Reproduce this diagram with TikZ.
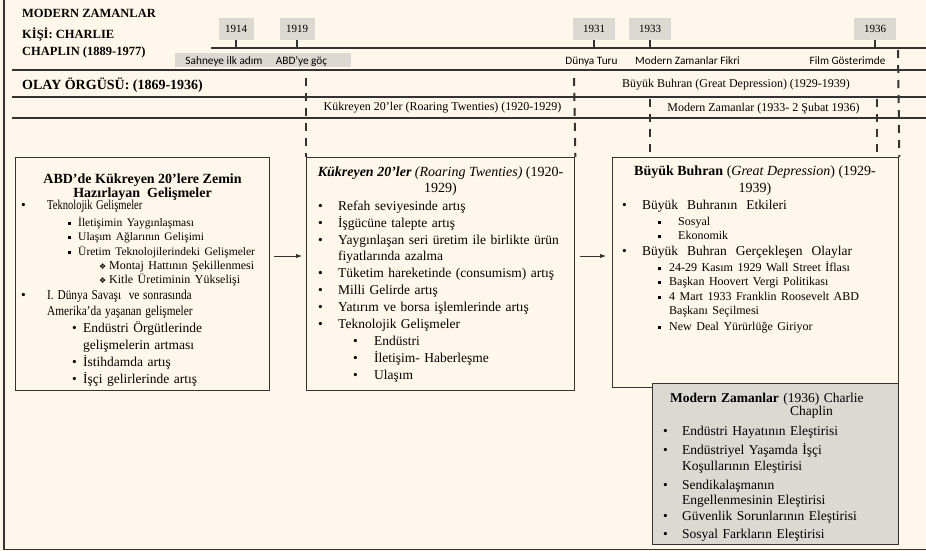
\documentclass[tikz,border=0pt]{standalone}
\usepackage{fontspec}
\setmainfont{Liberation Serif}
\newfontfamily\sansfont{Carlito}
\newfontfamily\symfont{DejaVu Sans}
\usepackage{graphicx}
\usepackage{tikz}
\usepackage{xcolor}
\usetikzlibrary{arrows.meta}
\usetikzlibrary{calc}

\definecolor{paper}{HTML}{FFF8EA}
\definecolor{greybox}{HTML}{DCD9D3}
\definecolor{ink}{HTML}{333333}

\newcommand{\fs}[2]{\fontsize{#1}{#2}\selectfont}
\newcommand{\itm}[4]{\hspace*{#1pt}\makebox[#2pt][l]{#3}{#4}}
\newcommand{\bul}{\textbullet}
\newcommand{\sqb}{\rule[1.5pt]{3.2pt}{3.2pt}}
\newcommand{\dia}{{\symfont\fs{8}{8}❖}}
\newcommand{\st}{\rule{0pt}{12pt}}
% condensed lines of the first box
\newcommand{\cnd}[2]{\scalebox{#1}[1]{\fs{13.5}{14.5}#2}}

\tikzset{
  boxframe/.style={draw=ink, line width=1.3pt, inner sep=0pt, anchor=north west},
  boxtext/.style={inner sep=0pt, anchor=north west, align=left, text width=#1,
    execute at begin node={\setlength{\parindent}{0pt}}},
  hline/.style={draw=ink, line width=1.4pt},
  dsh/.style={draw=ink, line width=2pt, dash pattern=on 8pt off 7pt},
  yearbox/.style={fill=greybox, minimum height=22pt, inner sep=0pt, font=\fs{11}{13}},
  yeartick/.style={draw=ink, line width=1.8pt},
  lbl/.style={font=\sansfont\fs{11.3}{13}, anchor=base, inner sep=0pt},
  rowtxt/.style={font=\fs{12}{14}, anchor=base, inner sep=0pt},
  arr/.style={draw=ink, line width=0.9pt, -{Latex[length=6pt,width=4.5pt]}}
}

\begin{document}
\begin{tikzpicture}[x=1pt,y=-1pt]

    \useasboundingbox (0,0) rectangle (926,551);
    \fill[paper] (0,0) rectangle (926,551);

    % outer frame (left and bottom)
    \draw[ink, line width=1.5pt] (4,0) -- (4,549.5) -- (926,549.5);

    % title block
    \node[anchor=base west, inner sep=0pt, font=\bfseries\fs{12.5}{17}] (ttl) at (22,17.5) {MODERN ZAMANLAR};
    \node[anchor=north west, inner sep=0pt, align=left, font=\bfseries\fs{12.5}{17.5}] (kisi) at (22,26) {\st KİŞİ: CHARLIE\\CHAPLIN (1889-1977)};

    % time line of the person
    \draw[hline] (211,48) -- (926,48);

    \node[yearbox, minimum width=35pt] (y1914) at (236,29) {1914};
    \node[yearbox, minimum width=35pt] (y1919) at (297,29) {1919};
    \node[yearbox, minimum width=42pt] (y1931) at (594,29) {1931};
    \node[yearbox, minimum width=42pt] (y1933) at (650,29) {1933};
    \node[yearbox, minimum width=42pt] (y1936) at (875,29) {1936};

    \foreach \y in {y1914,y1919,y1931,y1933,y1936}
        \draw[yeartick] (\y.south) -- ++(0,8);

    % labels under the time line
    \node[fill=greybox, anchor=north west, minimum width=176pt, minimum height=14pt, inner sep=0pt] (sbox) at (175,53) {};
    \node[lbl] (s1914) at (224,64) {Sahneye ilk adım};
    \node[lbl] (s1919) at (301.5,64) {ABD’ye göç};
    \node[lbl] (s1931) at (591.5,64) {Dünya Turu};
    \node[lbl] (s1933) at (687.5,64) {Modern Zamanlar Fikri};
    \node[lbl] (s1936) at (847.5,64) {Film Gösterimde};

    % rows of the plot
    \draw[hline] (12,70) -- (926,70);
    \draw[hline] (12,97) -- (926,97);
    \draw[hline] (12,118) -- (926,118);

    \node[anchor=base west, inner sep=0pt, font=\bfseries\fs{14}{16}] (olay) at (22,89) {OLAY ÖRGÜSÜ: (1869-1936)};
    \node[rowtxt] (gd) at (736,87.5) {Büyük Buhran (Great Depression) (1929-1939)};
    \node[rowtxt] (rt) at (442.5,110) {Kükreyen 20’ler (Roaring Twenties) (1920-1929)};
    \node[rowtxt] (mz) at (763.5,111) {Modern Zamanlar (1933-\ 2 Şubat 1936)};

    % the boxes
    \node[boxframe, minimum width=254pt, minimum height=233pt] (b1) at (15,157) {};
    \node[boxframe, minimum width=268pt, minimum height=233pt] (b2) at (306,157) {};
    \node[boxframe, minimum width=286pt, minimum height=230pt] (b3) at (612,157) {};

    % dashed period marks
    \draw[dsh] (306,78) -- (b2.north west);
    \draw[dsh] (574,78) -- (b2.north east);
    \draw[dsh] (650,99) -- (650,157);
    \draw[dsh] (877,99) -- (877,157);
    \draw[dsh] (898,50) -- (b3.north east);

    % box 1
    \node[align=center, inner sep=0pt, anchor=north, font=\bfseries\fs{14}{14}] (h1) at (142.5,171) {\st ABD’de Kükreyen 20’lere Zemin\\Hazırlayan\ \ Gelişmeler};
    \node[boxtext=250pt, font=\fs{13.5}{14.5}] (t1) at (15,197.5) {%
\itm{6}{26}{\bul}{\cnd{0.78}{Teknolojik Gelişmeler}}\st\\[2pt]
\itm{53}{10}{\sqb}{\fs{11.5}{14.5}İletişimin Yaygınlaşması}\\
\itm{53}{10}{\sqb}{\fs{11.5}{14.5}Ulaşım Ağlarının Gelişimi}\\
\itm{53}{10}{\sqb}{\fs{11.5}{14.5}Üretim Teknolojilerindeki Gelişmeler}\\
\itm{84}{10}{\dia}{\fs{12}{14.5}Montaj Hattının Şekillenmesi}\\[-1pt]
\itm{84}{10}{\dia}{\fs{12}{14.5}Kitle Üretiminin Yükselişi}\\[1.5pt]
\itm{6}{26}{\bul}{\cnd{0.84}{I. Dünya Savaşı\ \ ve sonrasında}}\\[1.5pt]
\itm{6}{26}{}{\cnd{0.84}{Amerika’da\ yaşanan\ gelişmeler}}\\[2.5pt]
\itm{57}{11}{\bul}{Endüstri Örgütlerinde}\\[2.5pt]
\itm{57}{11}{}{gelişmelerin artması}\\[2.5pt]
\itm{57}{11}{\bul}{İstihdamda artış}\\[2.5pt]
\itm{57}{11}{\bul}{İşçi gelirlerinde\ artış}};

    % box 2
    \node[align=center, inner sep=0pt, anchor=north, font=\fs{14}{15.6}] (h2) at (440.5,164.7) {\st{\bfseries\itshape Kükreyen 20’ler} \textit{(Roaring Twenties)} (1920-\\1929)};
    \node[boxtext=262pt, font=\fs{13.5}{16.9}] (t2) at (306,198) {%
\itm{12}{20}{\bul}{Refah seviyesinde\ artış}\st\\
\itm{12}{20}{\bul}{İşgücüne talepte artış}\\
\itm{12}{20}{\bul}{Yaygınlaşan\ seri üretim ile birlikte ürün}\\
\itm{12}{20}{}{fiyatlarında\ azalma}\\
\itm{12}{20}{\bul}{Tüketim hareketinde (consumism) artış}\\
\itm{12}{20}{\bul}{Milli Gelirde artış}\\
\itm{12}{20}{\bul}{Yatırım ve borsa işlemlerinde artış}\\
\itm{12}{20}{\bul}{Teknolojik Gelişmeler}\\
\itm{47}{21}{\bul}{Endüstri}\\
\itm{47}{21}{\bul}{İletişim- Haberleşme}\\
\itm{47}{21}{\bul}{Ulaşım}};

    % box 3
    \node[align=center, inner sep=0pt, anchor=north, font=\fs{14}{16.6}] (h3) at (755,163.7) {\st\textbf{Büyük Buhran} (\textit{Great Depression}) (1929-\\1939)};
    \node[boxtext=280pt, font=\fs{13.5}{15}] (t3) at (612,197) {%
\itm{10}{20}{\bul}{Büyük\ \ Buhranın\ \ Etkileri}\st\\[1pt]
\itm{46}{20}{\sqb}{\fs{12}{15}Sosyal}\\[-1pt]
\itm{46}{20}{\sqb}{\fs{12}{15}Ekonomik}\\[1.7pt]
\itm{10}{20}{\bul}{Büyük\ \ Buhran\ \ Gerçekleşen\ \ Olaylar}\\[1pt]
\itm{46}{11}{\sqb}{\fs{12}{15}24-29 Kasım 1929 Wall Street İflası}\\[-1.7pt]
\itm{46}{11}{\sqb}{\fs{12}{15}Başkan Hoovert Vergi Politikası}\\[0.7pt]
\itm{46}{11}{\sqb}{\fs{12}{15}4 Mart 1933 Franklin Roosevelt ABD}\\[-1.7pt]
\itm{46}{11}{}{\fs{12}{15}Başkanı Seçilmesi}\\[1pt]
\itm{46}{11}{\sqb}{\fs{12}{15}New Deal Yürürlüğe Giriyor}};

    % box 4, the film
    \node[boxframe, fill=greybox, minimum width=246pt, minimum height=161pt] (b4) at (652,383) {};
    \node[boxtext=226pt, font=\fs{13.5}{13.7}] (h4) at (670,390) {\st\textbf{Modern Zamanlar} (1936) Charlie\\\hspace*{120pt}Chaplin};
    \node[boxtext=240pt, font=\fs{13.5}{17}] (t4) at (652,423.7) {%
\itm{11}{19}{\bul}{Endüstri Hayatının Eleştirisi}\st\\[1.3pt]
\itm{11}{19}{\bul}{Endüstriyel Yaşamda İşçi}\\[-0.3pt]
\itm{11}{19}{}{Koşullarının Eleştirisi}\\[1.3pt]
\itm{11}{19}{\bul}{Sendikalaşmanın}\\[-1.3pt]
\itm{11}{19}{}{Engellenmesinin Eleştirisi}\\[-1pt]
\itm{11}{19}{\bul}{Güvenlik Sorunlarının Eleştirisi}\\[0.3pt]
\itm{11}{19}{\bul}{Sosyal Farkların Eleştirisi}};

    % arrows between the boxes
    \draw[arr] ($(b1.north east)+(4,99)$) -- ($(b2.north west)+(-4,99)$);
    \draw[arr] ($(b2.north east)+(5,99)$) -- ($(b3.north west)+(-6,99)$);

\end{tikzpicture}
\end{document}
